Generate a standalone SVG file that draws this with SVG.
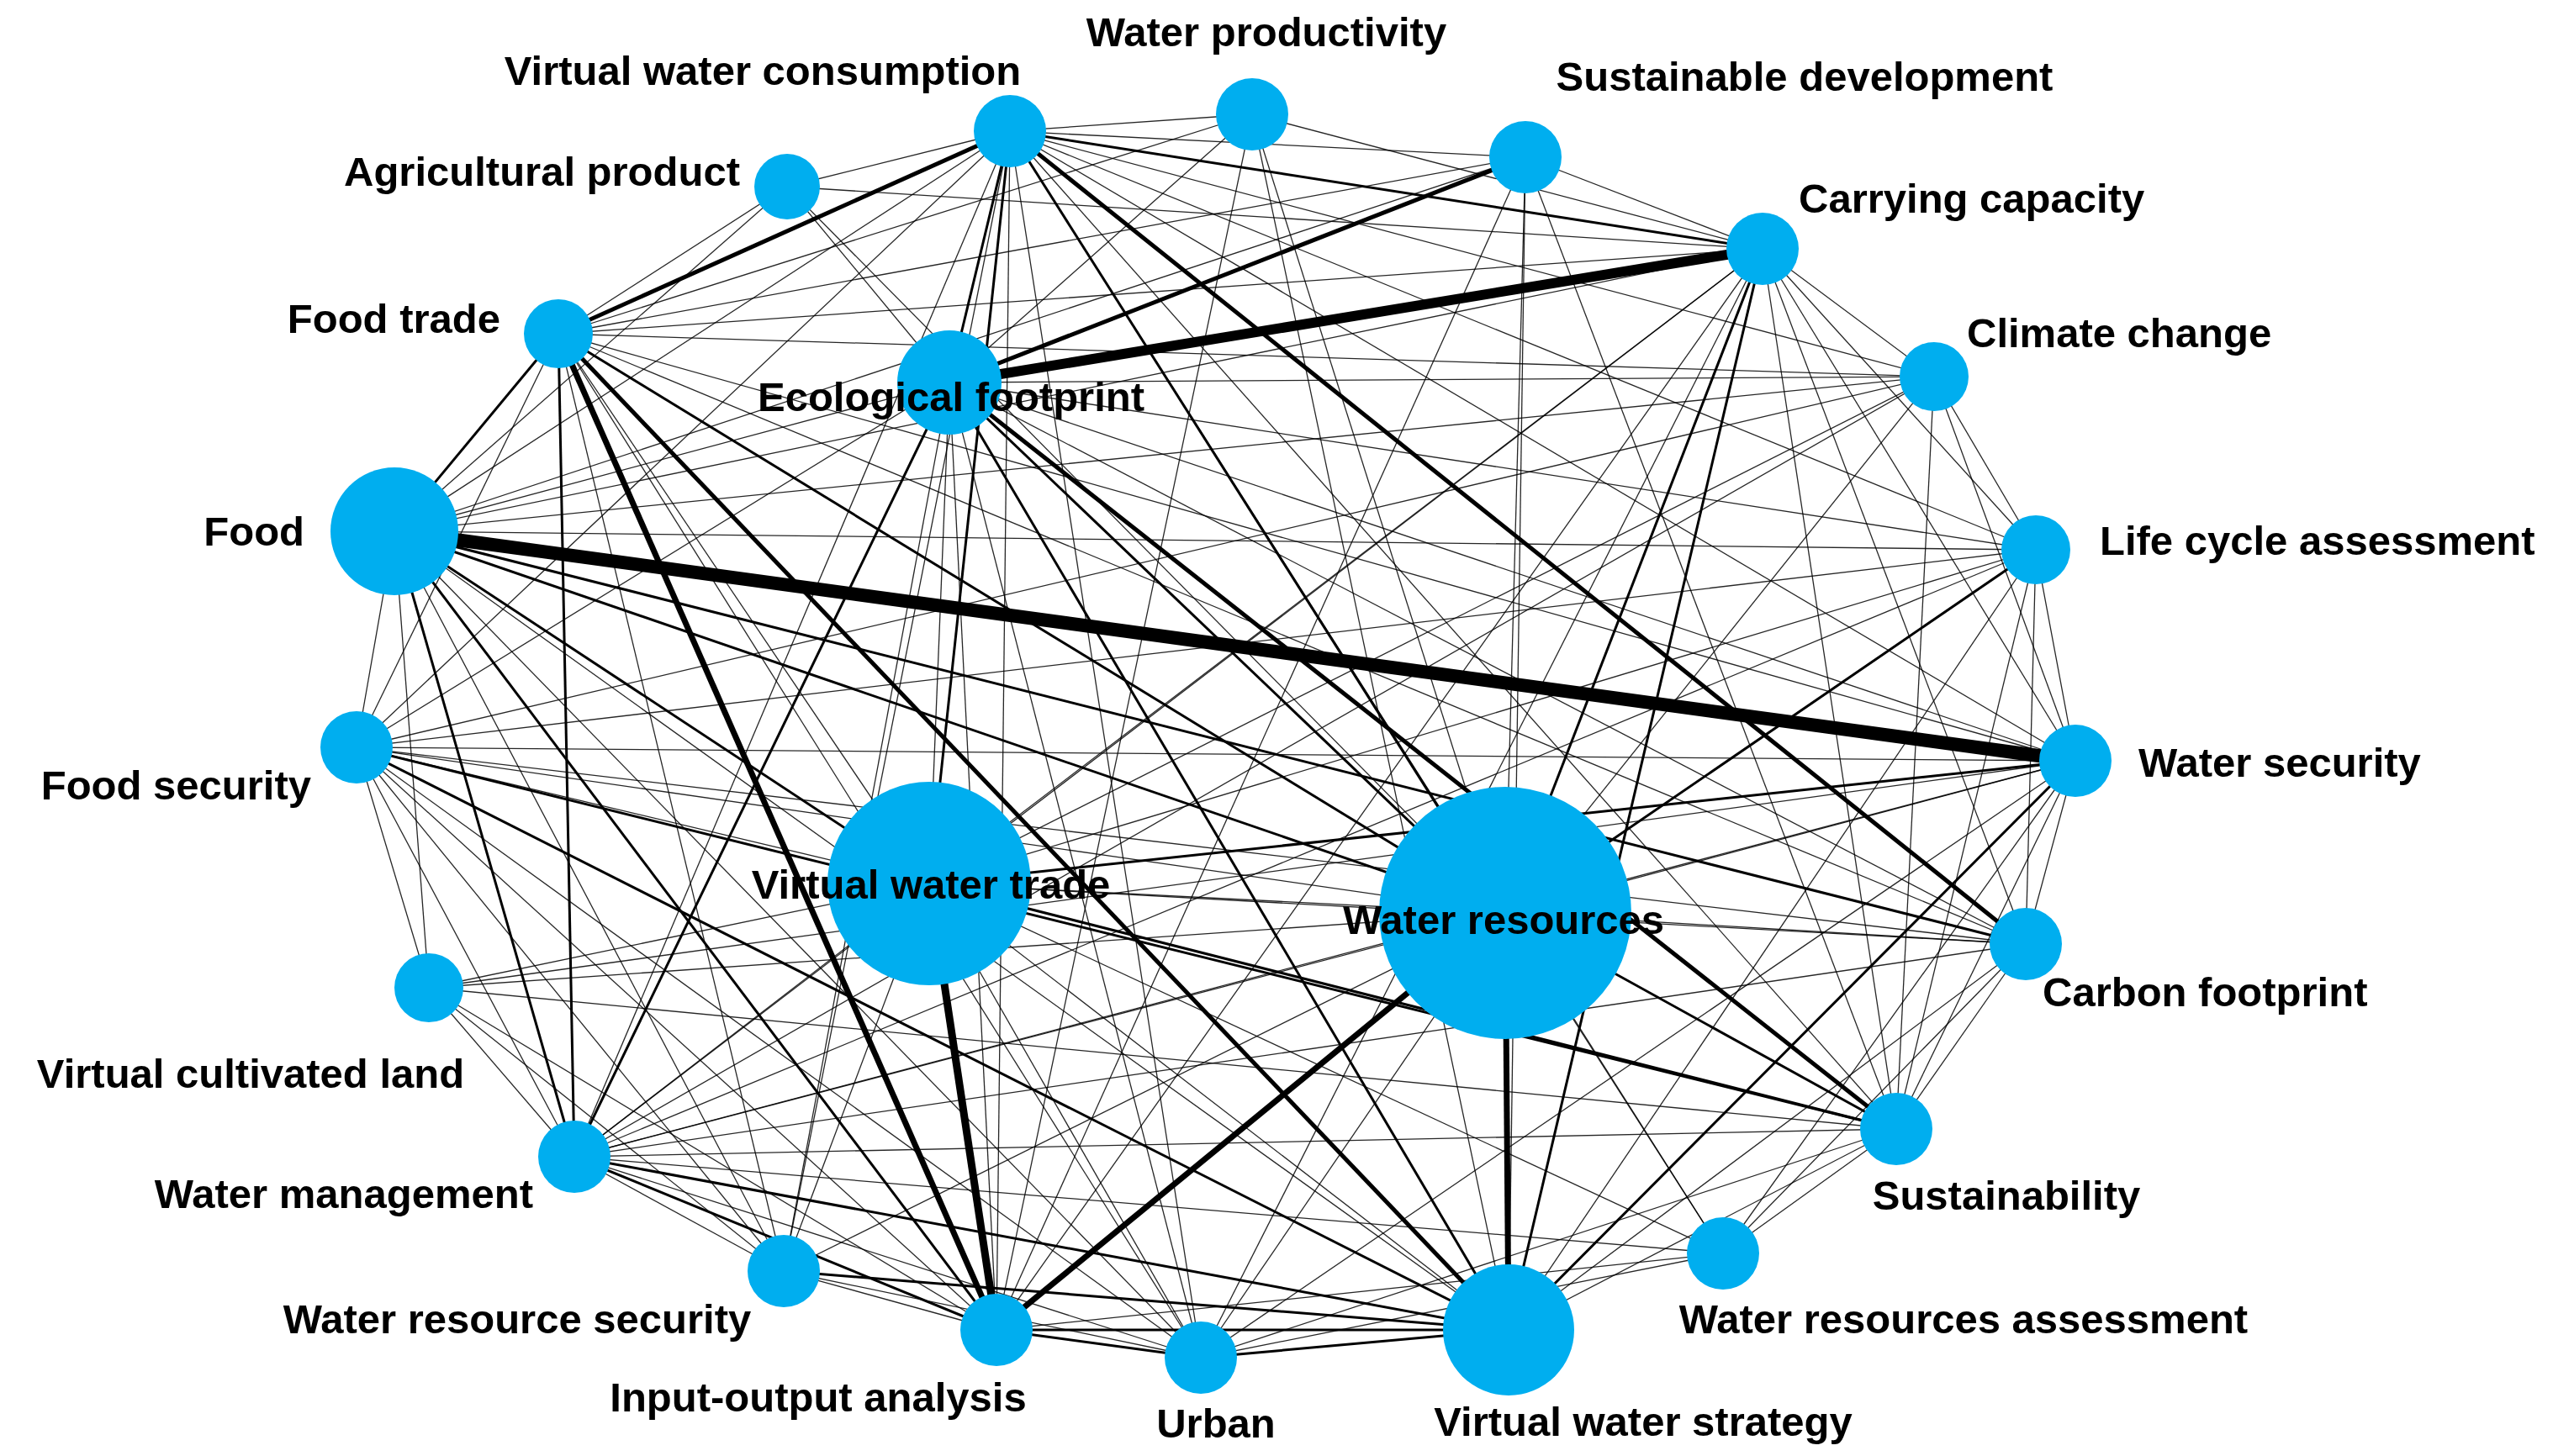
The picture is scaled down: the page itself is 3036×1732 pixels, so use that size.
<svg xmlns="http://www.w3.org/2000/svg" width="3036" height="1732" viewBox="0 0 3036 1732">
<style>
.t{stroke:#000;stroke-width:1.3;stroke-opacity:0.85}
.m{stroke:#000;stroke-width:3}
.k{stroke:#000;stroke-width:5}
.h{stroke:#000;stroke-width:8}
.n{fill:#00AEEF}
text{font-family:"Liberation Sans",Arial,sans-serif;font-weight:bold;font-size:49px;fill:#000}
</style>
<rect width="3036" height="1732" fill="#fff"/>
<g id="connectors">
<line class="t" x1="1201" y1="156" x2="936" y2="222"/>
<line class="t" x1="1201" y1="156" x2="1489" y2="136"/>
<line class="t" x1="1201" y1="156" x2="1814" y2="187"/>
<line class="t" x1="1201" y1="156" x2="469" y2="632"/>
<line class="t" x1="1201" y1="156" x2="424" y2="889"/>
<line class="t" x1="1201" y1="156" x2="2468" y2="905"/>
<line class="t" x1="1201" y1="156" x2="2300" y2="448"/>
<line class="t" x1="1201" y1="156" x2="2421" y2="654"/>
<line class="t" x1="1201" y1="156" x2="683" y2="1376"/>
<line class="t" x1="1201" y1="156" x2="932" y2="1512"/>
<line class="t" x1="1201" y1="156" x2="1185" y2="1582"/>
<line class="t" x1="1201" y1="156" x2="1428" y2="1615"/>
<line class="t" x1="1201" y1="156" x2="2255" y2="1343"/>
<line class="t" x1="1201" y1="156" x2="2049" y2="1491"/>
<line class="t" x1="1489" y1="136" x2="1129" y2="455"/>
<line class="t" x1="1489" y1="136" x2="664" y2="397"/>
<line class="t" x1="1489" y1="136" x2="1790" y2="1086"/>
<line class="t" x1="1489" y1="136" x2="1185" y2="1582"/>
<line class="t" x1="1489" y1="136" x2="1794" y2="1582"/>
<line class="t" x1="1489" y1="136" x2="2096" y2="296"/>
<line class="t" x1="1814" y1="187" x2="2096" y2="296"/>
<line class="t" x1="1814" y1="187" x2="664" y2="397"/>
<line class="t" x1="1814" y1="187" x2="1790" y2="1086"/>
<line class="t" x1="1814" y1="187" x2="1185" y2="1582"/>
<line class="t" x1="1814" y1="187" x2="1794" y2="1582"/>
<line class="t" x1="1814" y1="187" x2="2255" y2="1343"/>
<line class="t" x1="1814" y1="187" x2="469" y2="632"/>
<line class="t" x1="936" y1="222" x2="664" y2="397"/>
<line class="t" x1="936" y1="222" x2="1129" y2="455"/>
<line class="t" x1="936" y1="222" x2="2096" y2="296"/>
<line class="t" x1="936" y1="222" x2="469" y2="632"/>
<line class="t" x1="936" y1="222" x2="1790" y2="1086"/>
<line class="t" x1="2096" y1="296" x2="664" y2="397"/>
<line class="t" x1="2096" y1="296" x2="469" y2="632"/>
<line class="t" x1="2096" y1="296" x2="2300" y2="448"/>
<line class="t" x1="2096" y1="296" x2="2421" y2="654"/>
<line class="t" x1="2096" y1="296" x2="2468" y2="905"/>
<line class="t" x1="2096" y1="296" x2="2409" y2="1123"/>
<line class="t" x1="2096" y1="296" x2="2255" y2="1343"/>
<line class="t" x1="2096" y1="296" x2="1185" y2="1582"/>
<line class="t" x1="2096" y1="296" x2="1105" y2="1051"/>
<line class="t" x1="2096" y1="296" x2="683" y2="1376"/>
<line class="t" x1="2096" y1="296" x2="1428" y2="1615"/>
<line class="t" x1="664" y1="397" x2="2300" y2="448"/>
<line class="t" x1="664" y1="397" x2="2468" y2="905"/>
<line class="t" x1="664" y1="397" x2="1105" y2="1051"/>
<line class="t" x1="664" y1="397" x2="424" y2="889"/>
<line class="t" x1="664" y1="397" x2="932" y2="1512"/>
<line class="t" x1="664" y1="397" x2="1428" y2="1615"/>
<line class="t" x1="664" y1="397" x2="2409" y2="1123"/>
<line class="t" x1="1129" y1="455" x2="2300" y2="448"/>
<line class="t" x1="1129" y1="455" x2="2421" y2="654"/>
<line class="t" x1="1129" y1="455" x2="2468" y2="905"/>
<line class="t" x1="1129" y1="455" x2="2409" y2="1123"/>
<line class="t" x1="1129" y1="455" x2="1105" y2="1051"/>
<line class="t" x1="1129" y1="455" x2="1185" y2="1582"/>
<line class="t" x1="1129" y1="455" x2="1428" y2="1615"/>
<line class="t" x1="1129" y1="455" x2="932" y2="1512"/>
<line class="t" x1="1129" y1="455" x2="424" y2="889"/>
<line class="t" x1="1129" y1="455" x2="469" y2="632"/>
<line class="t" x1="2300" y1="448" x2="2421" y2="654"/>
<line class="t" x1="2300" y1="448" x2="2468" y2="905"/>
<line class="t" x1="2300" y1="448" x2="469" y2="632"/>
<line class="t" x1="2300" y1="448" x2="1105" y2="1051"/>
<line class="t" x1="2300" y1="448" x2="1790" y2="1086"/>
<line class="t" x1="2300" y1="448" x2="2255" y2="1343"/>
<line class="t" x1="2300" y1="448" x2="683" y2="1376"/>
<line class="t" x1="2300" y1="448" x2="424" y2="889"/>
<line class="t" x1="469" y1="632" x2="2421" y2="654"/>
<line class="t" x1="469" y1="632" x2="424" y2="889"/>
<line class="t" x1="469" y1="632" x2="510" y2="1175"/>
<line class="t" x1="469" y1="632" x2="932" y2="1512"/>
<line class="t" x1="469" y1="632" x2="1428" y2="1615"/>
<line class="t" x1="469" y1="632" x2="1794" y2="1582"/>
<line class="t" x1="2421" y1="654" x2="2468" y2="905"/>
<line class="t" x1="2421" y1="654" x2="1105" y2="1051"/>
<line class="t" x1="2421" y1="654" x2="424" y2="889"/>
<line class="t" x1="2421" y1="654" x2="2255" y2="1343"/>
<line class="t" x1="2421" y1="654" x2="683" y2="1376"/>
<line class="t" x1="2421" y1="654" x2="2409" y2="1123"/>
<line class="t" x1="2421" y1="654" x2="1794" y2="1582"/>
<line class="t" x1="424" y1="889" x2="2468" y2="905"/>
<line class="t" x1="424" y1="889" x2="1105" y2="1051"/>
<line class="t" x1="424" y1="889" x2="1790" y2="1086"/>
<line class="t" x1="424" y1="889" x2="2409" y2="1123"/>
<line class="t" x1="424" y1="889" x2="510" y2="1175"/>
<line class="t" x1="424" y1="889" x2="683" y2="1376"/>
<line class="t" x1="424" y1="889" x2="932" y2="1512"/>
<line class="t" x1="424" y1="889" x2="1185" y2="1582"/>
<line class="t" x1="424" y1="889" x2="1428" y2="1615"/>
<line class="t" x1="2468" y1="905" x2="1105" y2="1051"/>
<line class="t" x1="2468" y1="905" x2="1790" y2="1086"/>
<line class="t" x1="2468" y1="905" x2="2409" y2="1123"/>
<line class="t" x1="2468" y1="905" x2="2255" y2="1343"/>
<line class="t" x1="2468" y1="905" x2="2049" y2="1491"/>
<line class="t" x1="2468" y1="905" x2="510" y2="1175"/>
<line class="t" x1="2468" y1="905" x2="683" y2="1376"/>
<line class="t" x1="2468" y1="905" x2="1428" y2="1615"/>
<line class="t" x1="1105" y1="1051" x2="1790" y2="1086"/>
<line class="t" x1="1105" y1="1051" x2="2409" y2="1123"/>
<line class="t" x1="1105" y1="1051" x2="1794" y2="1582"/>
<line class="t" x1="1105" y1="1051" x2="683" y2="1376"/>
<line class="t" x1="1105" y1="1051" x2="932" y2="1512"/>
<line class="t" x1="1105" y1="1051" x2="1428" y2="1615"/>
<line class="t" x1="1105" y1="1051" x2="2049" y2="1491"/>
<line class="t" x1="1105" y1="1051" x2="510" y2="1175"/>
<line class="t" x1="1790" y1="1086" x2="2409" y2="1123"/>
<line class="t" x1="1790" y1="1086" x2="683" y2="1376"/>
<line class="t" x1="1790" y1="1086" x2="932" y2="1512"/>
<line class="t" x1="1790" y1="1086" x2="1428" y2="1615"/>
<line class="t" x1="1790" y1="1086" x2="2049" y2="1491"/>
<line class="t" x1="1790" y1="1086" x2="510" y2="1175"/>
<line class="t" x1="2409" y1="1123" x2="2255" y2="1343"/>
<line class="t" x1="2409" y1="1123" x2="683" y2="1376"/>
<line class="t" x1="2409" y1="1123" x2="1794" y2="1582"/>
<line class="t" x1="2409" y1="1123" x2="2049" y2="1491"/>
<line class="t" x1="510" y1="1175" x2="683" y2="1376"/>
<line class="t" x1="510" y1="1175" x2="932" y2="1512"/>
<line class="t" x1="510" y1="1175" x2="1185" y2="1582"/>
<line class="t" x1="510" y1="1175" x2="2255" y2="1343"/>
<line class="t" x1="2255" y1="1343" x2="1794" y2="1582"/>
<line class="t" x1="2255" y1="1343" x2="2049" y2="1491"/>
<line class="t" x1="2255" y1="1343" x2="683" y2="1376"/>
<line class="t" x1="2255" y1="1343" x2="1428" y2="1615"/>
<line class="t" x1="683" y1="1376" x2="932" y2="1512"/>
<line class="t" x1="683" y1="1376" x2="1428" y2="1615"/>
<line class="t" x1="683" y1="1376" x2="2049" y2="1491"/>
<line class="t" x1="932" y1="1512" x2="1185" y2="1582"/>
<line class="t" x1="932" y1="1512" x2="1428" y2="1615"/>
<line class="t" x1="1185" y1="1582" x2="2049" y2="1491"/>
<line class="t" x1="1428" y1="1615" x2="2049" y2="1491"/>
<line class="m" x1="1201" y1="156" x2="1129" y2="455"/>
<line class="m" x1="1201" y1="156" x2="1105" y2="1051"/>
<line class="m" x1="1201" y1="156" x2="2096" y2="296"/>
<line class="m" x1="664" y1="397" x2="1790" y2="1086"/>
<line class="m" x1="664" y1="397" x2="683" y2="1376"/>
<line class="m" x1="1129" y1="455" x2="683" y2="1376"/>
<line class="m" x1="1129" y1="455" x2="1790" y2="1086"/>
<line class="m" x1="1129" y1="455" x2="1794" y2="1582"/>
<line class="m" x1="2096" y1="296" x2="1790" y2="1086"/>
<line class="m" x1="2096" y1="296" x2="1794" y2="1582"/>
<line class="m" x1="683" y1="1376" x2="1794" y2="1582"/>
<line class="m" x1="683" y1="1376" x2="1185" y2="1582"/>
<line class="m" x1="932" y1="1512" x2="1794" y2="1582"/>
<line class="m" x1="1185" y1="1582" x2="1794" y2="1582"/>
<line class="m" x1="1185" y1="1582" x2="1428" y2="1615"/>
<line class="m" x1="1105" y1="1051" x2="2255" y2="1343"/>
<line class="m" x1="1790" y1="1086" x2="2255" y2="1343"/>
<line class="m" x1="1790" y1="1086" x2="2421" y2="654"/>
<line class="m" x1="424" y1="889" x2="1794" y2="1582"/>
<line class="m" x1="424" y1="889" x2="2255" y2="1343"/>
<line class="m" x1="469" y1="632" x2="1105" y2="1051"/>
<line class="m" x1="469" y1="632" x2="1790" y2="1086"/>
<line class="m" x1="469" y1="632" x2="683" y2="1376"/>
<line class="m" x1="469" y1="632" x2="1185" y2="1582"/>
<line class="m" x1="469" y1="632" x2="2409" y2="1123"/>
<line class="m" x1="1428" y1="1615" x2="1794" y2="1582"/>
<line class="m" x1="2468" y1="905" x2="1794" y2="1582"/>
<line class="m" x1="1105" y1="1051" x2="2468" y2="905"/>
<line class="m" x1="469" y1="632" x2="664" y2="397"/>
<line class="m" x1="1201" y1="156" x2="1790" y2="1086"/>
<line class="k" x1="1201" y1="156" x2="664" y2="397"/>
<line class="k" x1="1201" y1="156" x2="2409" y2="1123"/>
<line class="k" x1="1129" y1="455" x2="2255" y2="1343"/>
<line class="k" x1="664" y1="397" x2="1794" y2="1582"/>
<line class="k" x1="1129" y1="455" x2="1814" y2="187"/>
<line class="h" x1="664" y1="397" x2="1185" y2="1582" style="stroke-width:7"/>
<line class="h" x1="1790" y1="1086" x2="1185" y2="1582" style="stroke-width:7"/>
<line class="h" x1="1790" y1="1086" x2="1794" y2="1582" style="stroke-width:7"/>
<line class="h" x1="1105" y1="1051" x2="1185" y2="1582" style="stroke-width:9"/>
<line class="h" x1="1129" y1="455" x2="2096" y2="296" style="stroke-width:12"/>
<line class="h" x1="469" y1="632" x2="2468" y2="905" style="stroke-width:16"/>
</g>
<g id="n-vwc"><circle class="n" cx="1201" cy="156" r="43"/><text x="907" y="101" text-anchor="middle">Virtual water consumption</text></g>
<g id="n-wp"><circle class="n" cx="1489" cy="136" r="43"/><text x="1506" y="55" text-anchor="middle">Water productivity</text></g>
<g id="n-sd"><circle class="n" cx="1814" cy="187" r="43"/><text x="2146" y="108" text-anchor="middle">Sustainable development</text></g>
<g id="n-ap"><circle class="n" cx="936" cy="222" r="39"/><text x="880" y="221" text-anchor="end">Agricultural product</text></g>
<g id="n-cc"><circle class="n" cx="2096" cy="296" r="43"/><text x="2139" y="253">Carrying capacity</text></g>
<g id="n-ft"><circle class="n" cx="664" cy="397" r="41"/><text x="595" y="396" text-anchor="end">Food trade</text></g>
<g id="n-ef"><circle class="n" cx="1129" cy="455" r="62"/><text x="1131" y="489" text-anchor="middle">Ecological footprint</text></g>
<g id="n-clc"><circle class="n" cx="2300" cy="448" r="41"/><text x="2339" y="413">Climate change</text></g>
<g id="n-f"><circle class="n" cx="469" cy="632" r="76"/><text x="362" y="649" text-anchor="end">Food</text></g>
<g id="n-lca"><circle class="n" cx="2421" cy="654" r="41"/><text x="2497" y="660">Life cycle assessment</text></g>
<g id="n-fs"><circle class="n" cx="424" cy="889" r="43"/><text x="370" y="951" text-anchor="end">Food security</text></g>
<g id="n-ws"><circle class="n" cx="2468" cy="905" r="43"/><text x="2543" y="924">Water security</text></g>
<g id="n-vwt"><circle class="n" cx="1105" cy="1051" r="121"/><text x="1107" y="1069" text-anchor="middle">Virtual water trade</text></g>
<g id="n-wr"><circle class="n" cx="1790" cy="1086" r="150"/><text x="1788" y="1111" text-anchor="middle">Water resources</text></g>
<g id="n-cf"><circle class="n" cx="2409" cy="1123" r="43"/><text x="2429" y="1197">Carbon footprint</text></g>
<g id="n-vcl"><circle class="n" cx="510" cy="1175" r="41"/><text x="298" y="1294" text-anchor="middle">Virtual cultivated land</text></g>
<g id="n-su"><circle class="n" cx="2255" cy="1343" r="43"/><text x="2386" y="1439" text-anchor="middle">Sustainability</text></g>
<g id="n-wm"><circle class="n" cx="683" cy="1376" r="43"/><text x="634" y="1437" text-anchor="end">Water management</text></g>
<g id="n-wra"><circle class="n" cx="2049" cy="1491" r="43"/><text x="2335" y="1586" text-anchor="middle">Water resources assessment</text></g>
<g id="n-wrs"><circle class="n" cx="932" cy="1512" r="43"/><text x="615" y="1586" text-anchor="middle">Water resource security</text></g>
<g id="n-io"><circle class="n" cx="1185" cy="1582" r="43"/><text x="973" y="1679" text-anchor="middle">Input-output analysis</text></g>
<g id="n-u"><circle class="n" cx="1428" cy="1615" r="43"/><text x="1446" y="1710" text-anchor="middle">Urban</text></g>
<g id="n-vws"><circle class="n" cx="1794" cy="1582" r="78"/><text x="1954" y="1708" text-anchor="middle">Virtual water strategy</text></g>
</svg>
